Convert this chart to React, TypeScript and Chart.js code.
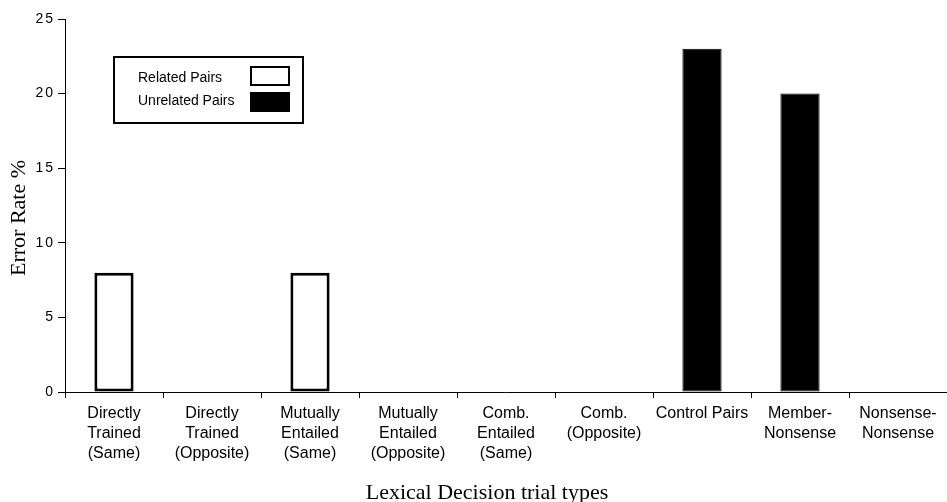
import React, { useEffect, useRef } from "react";
import { Chart, registerables } from "chart.js";

Chart.register(...registerables);

const categories: string[][] = [
  ["Directly", "Trained", "(Same)"],
  ["Directly", "Trained", "(Opposite)"],
  ["Mutually", "Entailed", "(Same)"],
  ["Mutually", "Entailed", "(Opposite)"],
  ["Comb.", "Entailed", "(Same)"],
  ["Comb.", "(Opposite)"],
  ["Control Pairs"],
  ["Member-", "Nonsense"],
  ["Nonsense-", "Nonsense"],
];
const relatedPairs: number[] = [8, 0, 8, 0, 0, 0, 0, 0, 0];
const unrelatedPairs: number[] = [0, 0, 0, 0, 0, 0, 23, 20, 0];
const seriesNames: string[] = ["Related Pairs", "Unrelated Pairs"];
const yTicks: number[] = [0, 5, 10, 15, 20, 25];
const xTitle = "Lexical Decision trial types";
const yTitle = "Error Rate %";

const SANS = '"Liberation Sans", Arial, sans-serif';
const SERIF = '"Liberation Serif", "Times New Roman", serif';

const decorPlugin = {
  id: "decor",
  beforeDraw(chart: any) {
    const s = chart.scales.y;
    if (s && !s.__patched) {
      const orig = s.drawLabels.bind(s);
      s.drawLabels = (ca: any) => {
        const c = chart.ctx;
        c.save();
        (c as any).letterSpacing = "2px";
        orig(ca);
        c.restore();
      };
      s.__patched = true;
    }
  },
  afterDraw(chart: any) {
    const ctx = chart.ctx;
    const ca = chart.chartArea;
    ctx.save();
    // Y title
    ctx.fillStyle = "#000";
    ctx.font = `22px ${SERIF}`;
    ctx.textAlign = "center";
    ctx.textBaseline = "alphabetic";
    ctx.save();
    ctx.translate(25, 218);
    ctx.rotate(-Math.PI / 2);
    ctx.fillText(yTitle, 0, 0);
    ctx.restore();
    // X title
    ctx.fillText(xTitle, 487, 499);

    // Legend
    const lx = ca.left + 49;
    const ly = ca.top + 38;
    ctx.lineWidth = 2;
    ctx.strokeStyle = "#000";
    ctx.strokeRect(lx, ly, 189, 66);
    ctx.font = `14px ${SANS}`;
    ctx.textAlign = "left";
    ctx.textBaseline = "middle";
    ctx.fillText(seriesNames[0], lx + 24, ly + 21);
    ctx.fillText(seriesNames[1], lx + 24, ly + 44);
    ctx.fillStyle = "#fff";
    ctx.fillRect(lx + 137, ly + 10, 38, 18);
    ctx.strokeRect(lx + 137, ly + 10, 38, 18);
    ctx.fillStyle = "#000";
    ctx.fillRect(lx + 136, ly + 35, 40, 20);
    ctx.restore();
  },
};

export default function App() {
  const ref = useRef<HTMLCanvasElement | null>(null);
  useEffect(() => {
    if (!ref.current) return;
    const chart = new Chart(ref.current, {
      type: "bar",
      data: {
        labels: categories,
        datasets: [
          {
            label: seriesNames[0],
            data: relatedPairs,
            backgroundColor: "#ffffff",
            borderColor: "#000000",
            borderWidth: 3,
            borderSkipped: false,
            grouped: false,
            barPercentage: 1,
            categoryPercentage: 0.4,
          } as any,
          {
            label: seriesNames[1],
            data: unrelatedPairs,
            backgroundColor: "#000000",
            borderColor: "#000000",
            borderWidth: 1,
            borderSkipped: false,
            grouped: false,
            barPercentage: 1,
            categoryPercentage: 0.4,
          } as any,
        ],
      },
      options: {
        animation: false,
        responsive: true,
        maintainAspectRatio: false,
        layout: { padding: { left: 0, right: 0, top: 19, bottom: 0 } },
        plugins: {
          legend: { display: false },
          tooltip: { enabled: false },
          title: { display: false },
        },
        scales: {
          x: {
            afterFit: (s: any) => {
              s.height = 110;
            },
            grid: {
              offset: true,
              drawOnChartArea: false,
              drawTicks: true,
              tickLength: 6,
              color: "#000",
            },
            border: { color: "#000", width: 1 },
            ticks: {
              color: "#000",
              font: { family: SANS, size: 16, lineHeight: 1.25 },
              maxRotation: 0,
              autoSkip: false,
              padding: 6,
            },
          },
          y: {
            min: 0,
            max: 25,
            afterFit: (s: any) => {
              s.width = 65;
            },
            afterBuildTicks: (s: any) => {
              s.ticks = yTicks.map((v) => ({ value: v }));
            },
            grid: {
              drawOnChartArea: false,
              drawTicks: true,
              tickLength: 7,
              color: "#000",
            },
            border: { color: "#000", width: 1 },
            ticks: {
              color: "#000",
              font: { family: SANS, size: 14 },
              padding: 3,
            },
          },
        },
      },
      plugins: [decorPlugin],
    });
    return () => chart.destroy();
  }, []);
  return (
    <div style={{ position: "fixed", left: 0, top: 0, width: 947, height: 502, background: "#fff" }}>
      <canvas ref={ref} />
    </div>
  );
}
